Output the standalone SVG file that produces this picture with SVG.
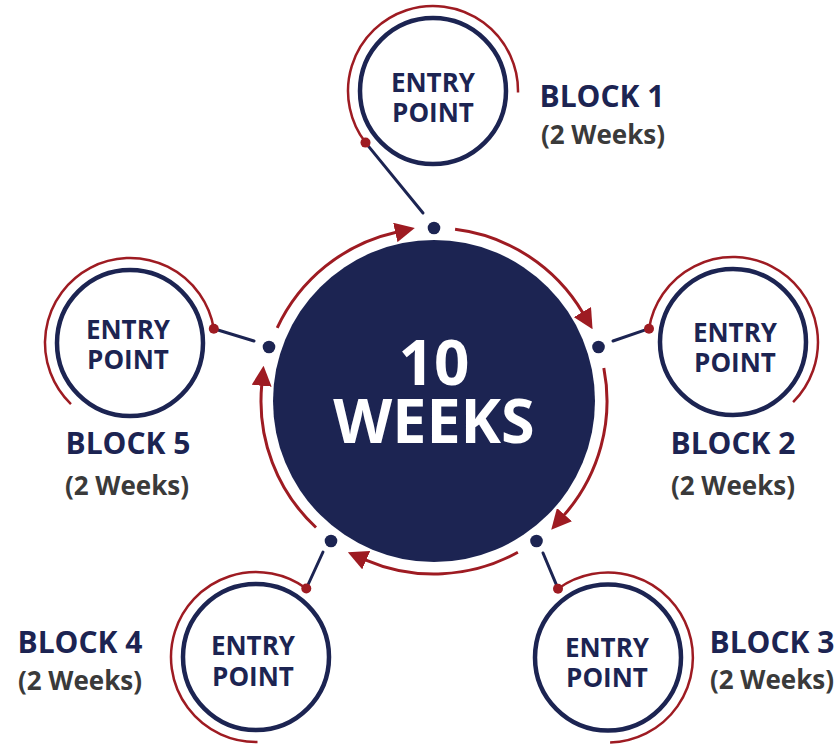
<svg xmlns="http://www.w3.org/2000/svg" width="840" height="744" viewBox="0 0 840 744">
<style>
.navy{fill:#1c2452}
.ring{fill:none;stroke:#1c2452;stroke-width:4.5}
.halo{fill:none;stroke:#9e1b22;stroke-width:2.5}
.cyc{fill:none;stroke:#9e1b22;stroke-width:3}
.link{stroke:#1c2452;stroke-width:3;stroke-linecap:round}
.rdot{fill:#9e1b22}
.ep{font-family:"Open Sans","Noto Sans",sans-serif;font-weight:700;font-size:26px;fill:#1c2452;text-anchor:middle}
.blk{font-family:"Open Sans","Noto Sans",sans-serif;font-weight:700;font-size:30px;fill:#1c2452;text-anchor:middle}
.wk{font-family:"Open Sans","Noto Sans",sans-serif;font-weight:700;font-size:26px;fill:#3a3a3a;text-anchor:middle}
.big{font-family:"Open Sans","Noto Sans",sans-serif;font-weight:700;fill:#ffffff;text-anchor:middle}
</style>
<defs>
<marker id="arr" viewBox="0 0 20 20" markerWidth="20" markerHeight="20" markerUnits="userSpaceOnUse" refX="1" refY="10" orient="auto">
<path d="M0,0 L20,10 L0,20 Z" fill="#9e1b22"/>
</marker>
</defs>

<g id="center">
<circle cx="434" cy="401" r="161" class="navy"/>
<text x="434" y="385" class="big" font-size="62">10</text>
<text x="434" y="443" class="big" font-size="61">WEEKS</text>
</g>

<g id="connectors">
<path class="cyc" d="M455.08,229.29 A173,173 0 0 1 582.91,312.94" marker-end="url(#arr)"/>
<path class="cyc" d="M603.82,367.99 A173,173 0 0 1 563.79,515.38" marker-end="url(#arr)"/>
<path class="cyc" d="M517.87,552.31 A173,173 0 0 1 365.29,559.77" marker-end="url(#arr)"/>
<path class="cyc" d="M316.01,527.52 A173,173 0 0 1 261.77,384.72" marker-end="url(#arr)"/>
<path class="cyc" d="M277.21,327.89 A173,173 0 0 1 396.26,232.17" marker-end="url(#arr)"/>
<line class="link" x1="365.5" y1="142.6" x2="423" y2="213"/>
<line class="link" x1="649" y1="328.7" x2="613" y2="341"/>
<line class="link" x1="558" y1="588.7" x2="543" y2="553"/>
<line class="link" x1="306.3" y1="588.5" x2="323" y2="552"/>
<line class="link" x1="213.8" y1="328.7" x2="254" y2="341"/>
<circle cx="434" cy="228" r="6.3" class="navy"/>
<circle cx="598.5" cy="347" r="6.3" class="navy"/>
<circle cx="536.5" cy="541" r="6.3" class="navy"/>
<circle cx="331" cy="541" r="6.3" class="navy"/>
<circle cx="269" cy="347" r="6.3" class="navy"/>
</g>

<g id="block1">
<circle cx="433" cy="91" r="73" class="ring" fill="#fff"/>
<path class="halo" d="M365.5,142.6 A85,85 0 1 1 518,92.5"/>
<circle cx="365.5" cy="142.6" r="5" class="rdot"/>
<text x="433" y="92" class="ep">ENTRY</text>
<text x="433" y="122" class="ep">POINT</text>
<text x="602" y="107" class="blk">BLOCK 1</text>
<text x="603" y="144" class="wk">(2 Weeks)</text>
</g>

<g id="block2">
<circle cx="733" cy="342" r="73" class="ring"/>
<path class="halo" d="M649,328.7 A85,85 0 1 1 793.1,402.1"/>
<circle cx="649" cy="328.7" r="5" class="rdot"/>
<text x="735" y="342" class="ep">ENTRY</text>
<text x="735" y="372" class="ep">POINT</text>
<text x="733" y="454" class="blk">BLOCK 2</text>
<text x="733" y="495" class="wk">(2 Weeks)</text>
</g>

<g id="block3">
<circle cx="608" cy="657.5" r="73" class="ring"/>
<path class="halo" d="M558,588.7 A85,85 0 1 1 610.1,742.5"/>
<circle cx="558" cy="588.7" r="5" class="rdot"/>
<text x="607" y="657" class="ep">ENTRY</text>
<text x="607" y="687" class="ep">POINT</text>
<text x="772" y="653" class="blk">BLOCK 3</text>
<text x="772" y="689" class="wk">(2 Weeks)</text>
</g>

<g id="block4">
<circle cx="256" cy="657" r="73" class="ring"/>
<path class="halo" d="M257.5,742 A85,85 0 1 1 306.3,588.5"/>
<circle cx="306.3" cy="588.5" r="5" class="rdot"/>
<text x="253" y="655" class="ep">ENTRY</text>
<text x="253" y="685.5" class="ep">POINT</text>
<text x="80" y="653" class="blk">BLOCK 4</text>
<text x="80" y="690" class="wk">(2 Weeks)</text>
</g>

<g id="block5">
<circle cx="130" cy="343" r="73" class="ring"/>
<path class="halo" d="M70.95,404.1 A85,85 0 1 1 213.8,328.7"/>
<circle cx="213.8" cy="328.7" r="5" class="rdot"/>
<text x="128" y="339" class="ep">ENTRY</text>
<text x="128" y="369" class="ep">POINT</text>
<text x="128" y="454" class="blk">BLOCK 5</text>
<text x="127" y="495" class="wk">(2 Weeks)</text>
</g>
</svg>
